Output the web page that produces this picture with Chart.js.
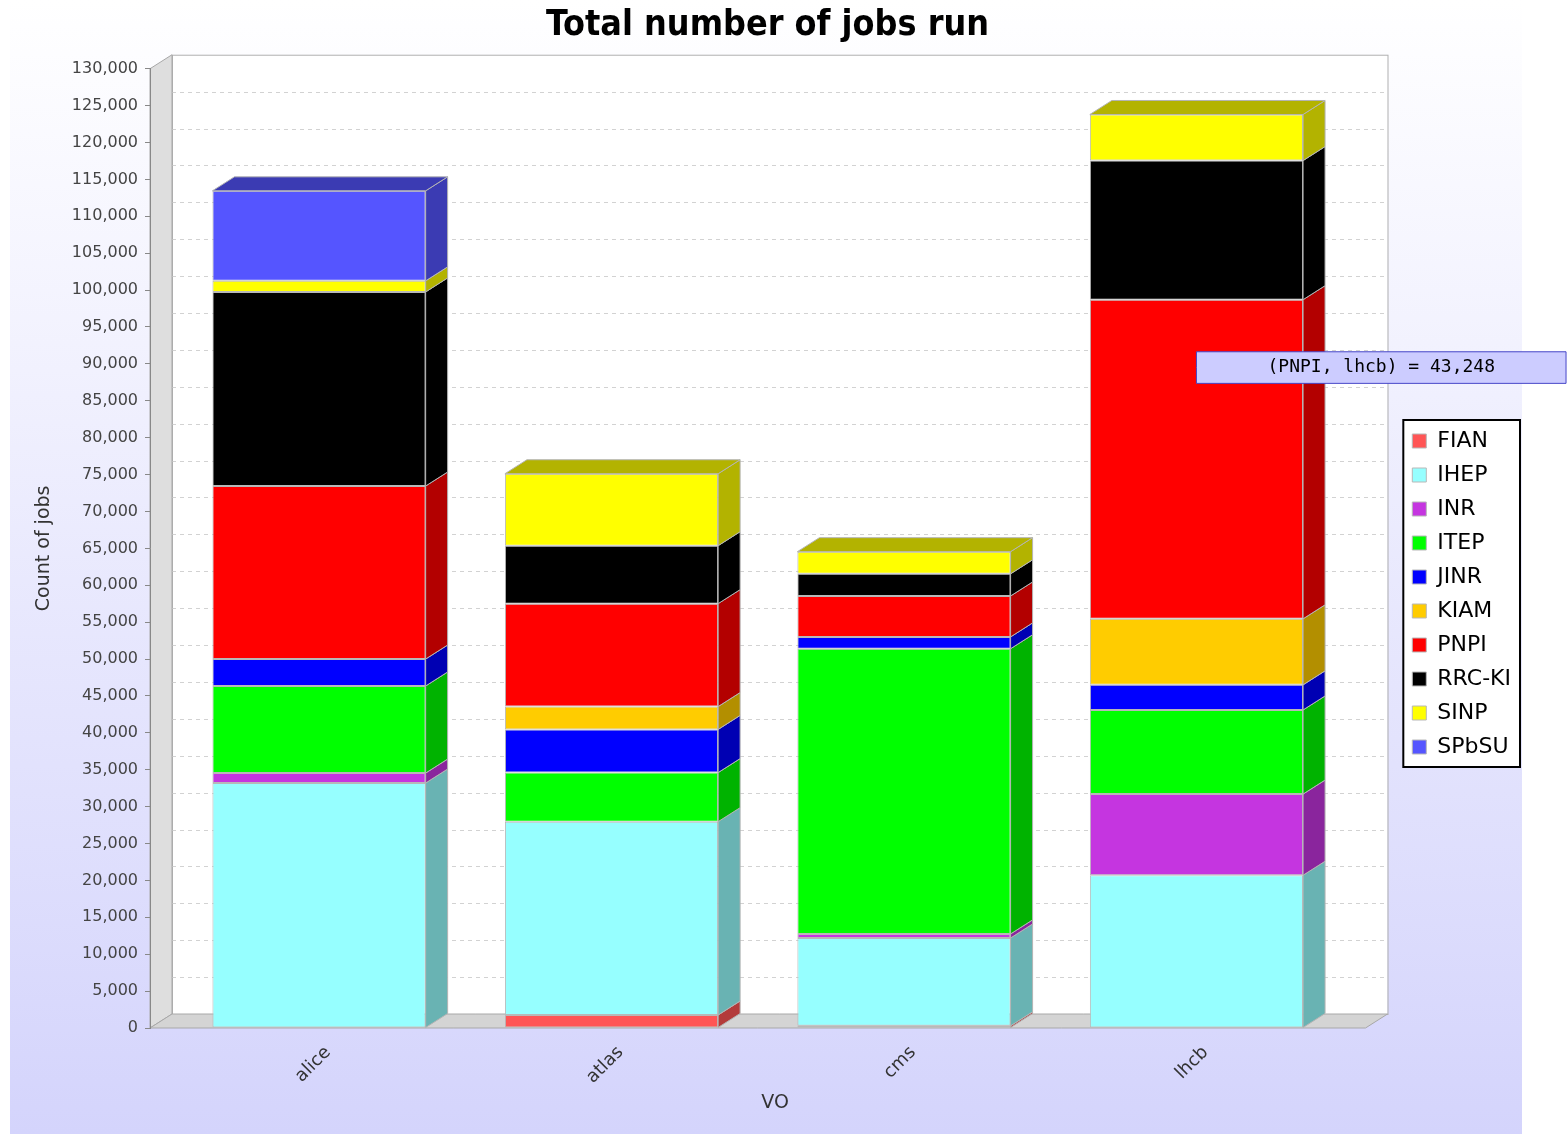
<!DOCTYPE html>
<html>
<head>
<meta charset="utf-8">
<title>Total number of jobs run</title>
<script src="https://cdn.jsdelivr.net/npm/chart.js@4.4.1/dist/chart.umd.min.js"></script>
<style>
  html, body { margin: 0; padding: 0; background: #fff; }
  canvas { display: block; }
</style>
</head>
<body>
<canvas id="grafico" width="1568" height="1134"></canvas>
<script>
// Categorías (VO) y sitios.
const CATEGORIAS = ["alice", "atlas", "cms", "lhcb"];
const SITIOS = ["FIAN", "IHEP", "INR", "ITEP", "JINR", "KIAM", "PNPI", "RRC-KI", "SINP", "SPbSU"];

// Trabajos por sitio, en el orden de CATEGORIAS.
const FIAN   = [0, 1760, 300, 0];
const IHEP   = [33200, 26200, 11900, 20700];
const INR    = [1350, 0, 550, 11000];
const ITEP   = [11800, 6650, 38650, 11400];
const JINR   = [3650, 5850, 1600, 3400];
const KIAM   = [0, 3100, 0, 8950];
const PNPI   = [23450, 13950, 5550, 43248];
const RRC_KI = [26300, 7850, 3000, 18850];
const SINP   = [1500, 9750, 3000, 6250];
const SPBSU  = [12200, 0, 0, 0];
const SERIES = [FIAN, IHEP, INR, ITEP, JINR, KIAM, PNPI, RRC_KI, SINP, SPBSU];

const COLORES = ["#ff5555", "#96ffff", "#c535e0", "#00ff00", "#0000ff",
                 "#ffcc00", "#ff0000", "#000000", "#ffff00", "#5555ff"];

// Eje Y.
const Y_MAX = 130000;
const Y_PASO = 5000;

// Geometría del efecto 3D (desplazamiento hacia el fondo).
const DX = 22, DY = 14;
const X_MIN = -0.578, X_FRENTE = 3.578, X_MAX = 3.697;

function oscurecer(hex, f = 0.7) {
  const n = parseInt(hex.slice(1), 16);
  const r = Math.round(((n >> 16) & 255) * f);
  const g = Math.round(((n >> 8) & 255) * f);
  const b = Math.round((n & 255) * f);
  return `rgb(${r},${g},${b})`;
}

function poligono(ctx, pts, relleno, borde) {
  ctx.beginPath();
  pts.forEach(([px, py], k) => (k ? ctx.lineTo(px, py) : ctx.moveTo(px, py)));
  ctx.closePath();
  ctx.fillStyle = relleno;
  ctx.fill();
  if (borde) { ctx.strokeStyle = borde; ctx.stroke(); }
}

// Fondo, paredes, suelo y caras laterales de las barras.
const efecto3D = {
  id: "efecto3D",
  beforeDraw(chart) {
    const { ctx, width, height } = chart;
    const xs = chart.scales.x, ys = chart.scales.y;
    ctx.save();
    ctx.fillStyle = "#fff";
    ctx.fillRect(0, 0, width, height);
    const grad = ctx.createLinearGradient(0, 0, 0, height);
    grad.addColorStop(0, "#ffffff");
    grad.addColorStop(1, "#d4d4fc");
    ctx.fillStyle = grad;
    ctx.fillRect(10, 0, 1512, height);

    const x0 = xs.getPixelForValue(X_MIN), x1 = xs.getPixelForValue(X_FRENTE);
    const y0 = ys.getPixelForValue(0), y1 = ys.getPixelForValue(Y_MAX);
    ctx.lineWidth = 1;
    // pared del fondo
    ctx.fillStyle = "#fff";
    ctx.fillRect(x0 + DX, y1 - DY, x1 - x0, y0 - y1);
    ctx.strokeStyle = "#b0b0b0";
    ctx.strokeRect(x0 + DX + 0.5, y1 - DY + 0.5, x1 - x0, y0 - y1);
    // líneas de rejilla
    ctx.setLineDash([4, 4]);
    ctx.strokeStyle = "#d2d2d2";
    for (let v = Y_PASO; v < Y_MAX; v += Y_PASO) {
      const py = Math.round(ys.getPixelForValue(v) - DY) + 0.5;
      ctx.beginPath();
      ctx.moveTo(x0 + DX, py);
      ctx.lineTo(x1 + DX, py);
      ctx.stroke();
    }
    ctx.setLineDash([]);
    // pared izquierda y suelo
    poligono(ctx, [[x0, y1], [x0 + DX, y1 - DY], [x0 + DX, y0 - DY], [x0, y0]], "#dedede", "#a8a8a8");
    poligono(ctx, [[x0, y0], [x0 + DX, y0 - DY], [x1 + DX, y0 - DY], [x1, y0]], "#d4d4d4", "#a8a8a8");

    // recuadro de la leyenda
    const hb = chart.legend && chart.legend.legendHitBoxes;
    if (hb && hb.length) {
      const l = Math.min(...hb.map(h => h.left)) - 9;
      const r = Math.max(...hb.map(h => h.left + h.width)) + 9;
      const t = Math.min(...hb.map(h => h.top)) - 10;
      const b = Math.max(...hb.map(h => h.top + h.height)) + 9;
      ctx.fillStyle = "#fff";
      ctx.fillRect(l, t, r - l, b - t);
      ctx.strokeStyle = "#000";
      ctx.lineWidth = 2;
      ctx.strokeRect(l, t, r - l, b - t);
    }
    ctx.restore();
  },
  afterDatasetsDraw(chart) {
    const { ctx } = chart;
    const cimas = {};
    ctx.save();
    ctx.lineWidth = 1;
    chart.data.datasets.forEach((ds, di) => {
      const meta = chart.getDatasetMeta(di);
      if (meta.hidden) return;
      meta.data.forEach((bar, i) => {
        const { x, y, base, width } = bar.getProps(["x", "y", "base", "width"], true);
        const top = Math.min(y, base), bottom = Math.max(y, base);
        if (bottom - top < 0.5) return;
        const right = x + width / 2;
        poligono(ctx, [[right, top], [right + DX, top - DY], [right + DX, bottom - DY], [right, bottom]],
                 oscurecer(ds.backgroundColor), "#b4b4b4");
        if (!cimas[i] || top < cimas[i].top) {
          cimas[i] = { top, left: x - width / 2, right, color: ds.backgroundColor };
        }
      });
    });
    Object.values(cimas).forEach(c => {
      poligono(ctx, [[c.left, c.top], [c.left + DX, c.top - DY], [c.right + DX, c.top - DY], [c.right, c.top]],
               oscurecer(c.color), "#b4b4b4");
    });
    ctx.restore();
  }
};

Chart.Tooltip.positioners.fijo = function (items) {
  if (!items.length) return false;
  const ys = this.chart.scales.y;
  return { x: items[0].element.x, y: ys.getPixelForValue(89500) };
};

Chart.defaults.font.family = "'DejaVu Sans', sans-serif";

const datasets = SITIOS.map((s, k) => ({
  label: s,
  data: SERIES[k].map((v, i) => ({ x: i, y: v })),
  backgroundColor: COLORES[k],
  borderColor: "#b8b8b8",
  borderWidth: 1,
  borderSkipped: false,
  barPercentage: 1,
  categoryPercentage: 0.729
}));

const grafico = new Chart(document.getElementById("grafico"), {
  type: "bar",
  data: { datasets },
  plugins: [efecto3D],
  options: {
    responsive: false,
    animation: false,
    events: [],
    layout: { padding: { left: 14, right: 47, top: 0, bottom: 0 } },
    plugins: {
      title: {
        display: true,
        text: "Total number of jobs run",
        color: "#000",
        font: { family: "'DejaVu Sans Condensed', 'DejaVu Sans', sans-serif", size: 35.6, weight: "bold" },
        padding: { top: 4, bottom: 22 }
      },
      legend: {
        position: "right",
        title: { display: true, text: " ", font: { size: 10 }, padding: 21 },
        labels: { boxWidth: 14, boxHeight: 14, padding: 12, color: "#000", font: { size: 22 } }
      },
      tooltip: {
        position: "fijo",
        xAlign: "left",
        yAlign: "center",
        caretSize: 0,
        caretPadding: 0,
        cornerRadius: 0,
        backgroundColor: "#ccccff",
        borderColor: "#4646c8",
        borderWidth: 1,
        displayColors: false,
        bodyColor: "#000",
        bodyFont: { family: "'DejaVu Sans Mono', monospace", size: 18 },
        padding: { left: 71, right: 71, top: 5, bottom: 5 },
        callbacks: {
          title: () => "",
          label: c => `(${c.dataset.label}, ${CATEGORIAS[c.dataIndex]}) = ${c.parsed.y.toLocaleString("en-US")}`
        }
      }
    },
    scales: {
      x: {
        type: "linear",
        min: X_MIN,
        max: X_MAX,
        offset: false,
        stacked: true,
        afterBuildTicks: s => { s.ticks = CATEGORIAS.map((c, i) => ({ value: i })); },
        afterFit: s => { s.height = 106; },
        grid: { display: false, offset: false },
        border: { display: false },
        ticks: {
          callback: v => CATEGORIAS[v],
          autoSkip: false,
          minRotation: 45,
          maxRotation: 45,
          labelOffset: 9,
          padding: 6,
          color: "#333",
          font: { size: 18 }
        },
        title: { display: true, text: "VO", color: "#333", font: { size: 19 }, padding: { top: 4, bottom: 20 } }
      },
      y: {
        stacked: true,
        min: 0,
        max: Y_MAX,
        afterFit: s => { s.width = 136; },
        ticks: {
          stepSize: Y_PASO,
          padding: 7,
          color: "#444",
          font: { size: 16 },
          callback: v => v.toLocaleString("en-US")
        },
        grid: { drawOnChartArea: false, drawTicks: true, tickLength: 5, tickColor: "#888" },
        border: { display: true, color: "#888" },
        title: { display: true, text: "Count of jobs", color: "#333", font: { size: 19 }, padding: { top: 19 } }
      }
    }
  }
});

// Etiqueta emergente fija, como en la captura original.
grafico.tooltip.setActiveElements([{ datasetIndex: 6, index: 3 }], { x: 0, y: 0 });
grafico.update();
</script>
</body>
</html>
